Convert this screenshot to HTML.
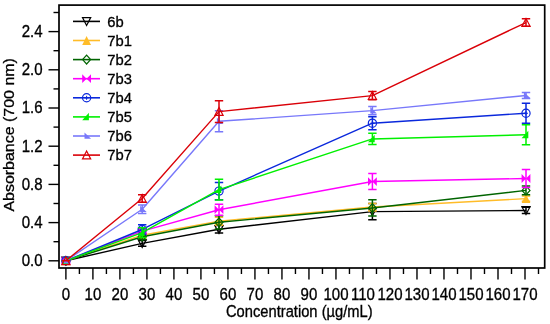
<!DOCTYPE html><html><head><meta charset="utf-8"><style>html,body{margin:0;padding:0;background:#fff;}svg{display:block;will-change:transform;}text{font-family:"Liberation Sans",sans-serif;stroke:#000;stroke-width:0.3px;}</style></head><body>
<svg width="550" height="324" viewBox="0 0 550 324">
<rect width="550" height="324" fill="#fff"/>
<rect x="59.0" y="5.1" width="485.70" height="262.90" fill="none" stroke="#000" stroke-width="1.7"/>
<line x1="48.50" y1="260.80" x2="59.00" y2="260.80" stroke="#000" stroke-width="1.4"/>
<text transform="translate(42.5,266.10) scale(1,1.13)" font-size="15" text-anchor="end">0.0</text>
<line x1="53.50" y1="241.70" x2="59.00" y2="241.70" stroke="#000" stroke-width="1.4"/>
<line x1="48.50" y1="222.60" x2="59.00" y2="222.60" stroke="#000" stroke-width="1.4"/>
<text transform="translate(42.5,227.90) scale(1,1.13)" font-size="15" text-anchor="end">0.4</text>
<line x1="53.50" y1="203.50" x2="59.00" y2="203.50" stroke="#000" stroke-width="1.4"/>
<line x1="48.50" y1="184.40" x2="59.00" y2="184.40" stroke="#000" stroke-width="1.4"/>
<text transform="translate(42.5,189.70) scale(1,1.13)" font-size="15" text-anchor="end">0.8</text>
<line x1="53.50" y1="165.30" x2="59.00" y2="165.30" stroke="#000" stroke-width="1.4"/>
<line x1="48.50" y1="146.20" x2="59.00" y2="146.20" stroke="#000" stroke-width="1.4"/>
<text transform="translate(42.5,151.50) scale(1,1.13)" font-size="15" text-anchor="end">1.2</text>
<line x1="53.50" y1="127.10" x2="59.00" y2="127.10" stroke="#000" stroke-width="1.4"/>
<line x1="48.50" y1="108.00" x2="59.00" y2="108.00" stroke="#000" stroke-width="1.4"/>
<text transform="translate(42.5,113.30) scale(1,1.13)" font-size="15" text-anchor="end">1.6</text>
<line x1="53.50" y1="88.90" x2="59.00" y2="88.90" stroke="#000" stroke-width="1.4"/>
<line x1="48.50" y1="69.80" x2="59.00" y2="69.80" stroke="#000" stroke-width="1.4"/>
<text transform="translate(42.5,75.10) scale(1,1.13)" font-size="15" text-anchor="end">2.0</text>
<line x1="53.50" y1="50.70" x2="59.00" y2="50.70" stroke="#000" stroke-width="1.4"/>
<line x1="48.50" y1="31.60" x2="59.00" y2="31.60" stroke="#000" stroke-width="1.4"/>
<text transform="translate(42.5,36.90) scale(1,1.13)" font-size="15" text-anchor="end">2.4</text>
<line x1="53.50" y1="12.50" x2="59.00" y2="12.50" stroke="#000" stroke-width="1.4"/>
<line x1="65.90" y1="268.00" x2="65.90" y2="279.50" stroke="#000" stroke-width="1.4"/>
<text transform="translate(65.90,299.6) scale(1,1.13)" font-size="15" text-anchor="middle">0</text>
<line x1="79.40" y1="268.00" x2="79.40" y2="274.00" stroke="#000" stroke-width="1.4"/>
<line x1="92.91" y1="268.00" x2="92.91" y2="279.50" stroke="#000" stroke-width="1.4"/>
<text transform="translate(92.91,299.6) scale(1,1.13)" font-size="15" text-anchor="middle">10</text>
<line x1="106.41" y1="268.00" x2="106.41" y2="274.00" stroke="#000" stroke-width="1.4"/>
<line x1="119.91" y1="268.00" x2="119.91" y2="279.50" stroke="#000" stroke-width="1.4"/>
<text transform="translate(119.91,299.6) scale(1,1.13)" font-size="15" text-anchor="middle">20</text>
<line x1="133.42" y1="268.00" x2="133.42" y2="274.00" stroke="#000" stroke-width="1.4"/>
<line x1="146.92" y1="268.00" x2="146.92" y2="279.50" stroke="#000" stroke-width="1.4"/>
<text transform="translate(146.92,299.6) scale(1,1.13)" font-size="15" text-anchor="middle">30</text>
<line x1="160.42" y1="268.00" x2="160.42" y2="274.00" stroke="#000" stroke-width="1.4"/>
<line x1="173.92" y1="268.00" x2="173.92" y2="279.50" stroke="#000" stroke-width="1.4"/>
<text transform="translate(173.92,299.6) scale(1,1.13)" font-size="15" text-anchor="middle">40</text>
<line x1="187.43" y1="268.00" x2="187.43" y2="274.00" stroke="#000" stroke-width="1.4"/>
<line x1="200.93" y1="268.00" x2="200.93" y2="279.50" stroke="#000" stroke-width="1.4"/>
<text transform="translate(200.93,299.6) scale(1,1.13)" font-size="15" text-anchor="middle">50</text>
<line x1="214.43" y1="268.00" x2="214.43" y2="274.00" stroke="#000" stroke-width="1.4"/>
<line x1="227.94" y1="268.00" x2="227.94" y2="279.50" stroke="#000" stroke-width="1.4"/>
<text transform="translate(227.94,299.6) scale(1,1.13)" font-size="15" text-anchor="middle">60</text>
<line x1="241.44" y1="268.00" x2="241.44" y2="274.00" stroke="#000" stroke-width="1.4"/>
<line x1="254.94" y1="268.00" x2="254.94" y2="279.50" stroke="#000" stroke-width="1.4"/>
<text transform="translate(254.94,299.6) scale(1,1.13)" font-size="15" text-anchor="middle">70</text>
<line x1="268.45" y1="268.00" x2="268.45" y2="274.00" stroke="#000" stroke-width="1.4"/>
<line x1="281.95" y1="268.00" x2="281.95" y2="279.50" stroke="#000" stroke-width="1.4"/>
<text transform="translate(281.95,299.6) scale(1,1.13)" font-size="15" text-anchor="middle">80</text>
<line x1="295.45" y1="268.00" x2="295.45" y2="274.00" stroke="#000" stroke-width="1.4"/>
<line x1="308.95" y1="268.00" x2="308.95" y2="279.50" stroke="#000" stroke-width="1.4"/>
<text transform="translate(308.95,299.6) scale(1,1.13)" font-size="15" text-anchor="middle">90</text>
<line x1="322.46" y1="268.00" x2="322.46" y2="274.00" stroke="#000" stroke-width="1.4"/>
<line x1="335.96" y1="268.00" x2="335.96" y2="279.50" stroke="#000" stroke-width="1.4"/>
<text transform="translate(335.96,299.6) scale(1,1.13)" font-size="15" text-anchor="middle">100</text>
<line x1="349.46" y1="268.00" x2="349.46" y2="274.00" stroke="#000" stroke-width="1.4"/>
<line x1="362.97" y1="268.00" x2="362.97" y2="279.50" stroke="#000" stroke-width="1.4"/>
<text transform="translate(362.97,299.6) scale(1,1.13)" font-size="15" text-anchor="middle">110</text>
<line x1="376.47" y1="268.00" x2="376.47" y2="274.00" stroke="#000" stroke-width="1.4"/>
<line x1="389.97" y1="268.00" x2="389.97" y2="279.50" stroke="#000" stroke-width="1.4"/>
<text transform="translate(389.97,299.6) scale(1,1.13)" font-size="15" text-anchor="middle">120</text>
<line x1="403.48" y1="268.00" x2="403.48" y2="274.00" stroke="#000" stroke-width="1.4"/>
<line x1="416.98" y1="268.00" x2="416.98" y2="279.50" stroke="#000" stroke-width="1.4"/>
<text transform="translate(416.98,299.6) scale(1,1.13)" font-size="15" text-anchor="middle">130</text>
<line x1="430.48" y1="268.00" x2="430.48" y2="274.00" stroke="#000" stroke-width="1.4"/>
<line x1="443.98" y1="268.00" x2="443.98" y2="279.50" stroke="#000" stroke-width="1.4"/>
<text transform="translate(443.98,299.6) scale(1,1.13)" font-size="15" text-anchor="middle">140</text>
<line x1="457.49" y1="268.00" x2="457.49" y2="274.00" stroke="#000" stroke-width="1.4"/>
<line x1="470.99" y1="268.00" x2="470.99" y2="279.50" stroke="#000" stroke-width="1.4"/>
<text transform="translate(470.99,299.6) scale(1,1.13)" font-size="15" text-anchor="middle">150</text>
<line x1="484.49" y1="268.00" x2="484.49" y2="274.00" stroke="#000" stroke-width="1.4"/>
<line x1="498.00" y1="268.00" x2="498.00" y2="279.50" stroke="#000" stroke-width="1.4"/>
<text transform="translate(498.00,299.6) scale(1,1.13)" font-size="15" text-anchor="middle">160</text>
<line x1="511.50" y1="268.00" x2="511.50" y2="274.00" stroke="#000" stroke-width="1.4"/>
<line x1="525.00" y1="268.00" x2="525.00" y2="279.50" stroke="#000" stroke-width="1.4"/>
<text transform="translate(525.00,299.6) scale(1,1.13)" font-size="15" text-anchor="middle">170</text>
<line x1="538.50" y1="268.00" x2="538.50" y2="274.00" stroke="#000" stroke-width="1.4"/>
<text transform="translate(226,316.5) scale(1,1.15)" font-size="15" textLength="146.6" lengthAdjust="spacingAndGlyphs">Concentration (µg/mL)</text>
<text transform="translate(13.9,211.6) rotate(-90)" font-size="15" textLength="153.5" lengthAdjust="spacingAndGlyphs">Absorbance (700 nm)</text>
<path d="M65.90,260.80 L142.20,243.32 L219.00,229.29 L372.40,211.62 L526.00,210.47" fill="none" stroke="#000000" stroke-width="1.4" stroke-linejoin="round"/>
<path d="M65.90,260.80 V260.80 M61.70,260.80 H70.10 M61.70,260.80 H70.10" stroke="#000000" stroke-width="1.5" fill="none"/>
<path d="M61.80,257.00 L70.00,257.00 L65.90,264.90 Z" fill="none" stroke="#000000" stroke-width="1.2"/>
<path d="M142.20,240.46 V246.19 M138.00,240.46 H146.40 M138.00,246.19 H146.40" stroke="#000000" stroke-width="1.5" fill="none"/>
<path d="M138.10,239.52 L146.30,239.52 L142.20,247.42 Z" fill="none" stroke="#000000" stroke-width="1.2"/>
<path d="M219.00,225.47 V233.11 M214.80,225.47 H223.20 M214.80,233.11 H223.20" stroke="#000000" stroke-width="1.5" fill="none"/>
<path d="M214.90,225.49 L223.10,225.49 L219.00,233.39 Z" fill="none" stroke="#000000" stroke-width="1.2"/>
<path d="M372.40,203.50 V219.74 M368.20,203.50 H376.60 M368.20,219.74 H376.60" stroke="#000000" stroke-width="1.5" fill="none"/>
<path d="M368.30,207.82 L376.50,207.82 L372.40,215.72 Z" fill="none" stroke="#000000" stroke-width="1.2"/>
<path d="M526.00,207.32 V213.62 M521.80,207.32 H530.20 M521.80,213.62 H530.20" stroke="#000000" stroke-width="1.5" fill="none"/>
<path d="M521.90,206.67 L530.10,206.67 L526.00,214.57 Z" fill="none" stroke="#000000" stroke-width="1.2"/>
<path d="M65.90,260.80 L142.20,235.21 L219.00,221.17 L372.40,207.03 L526.00,198.63" fill="none" stroke="#FFBC28" stroke-width="1.4" stroke-linejoin="round"/>
<path d="M65.90,260.80 V260.80 M61.70,260.80 H70.10 M61.70,260.80 H70.10" stroke="#FFBC28" stroke-width="1.5" fill="none"/>
<path d="M61.50,265.20 L70.30,265.20 L65.90,256.40 Z" fill="#FFBC28"/>
<path d="M142.20,232.34 V238.07 M138.00,232.34 H146.40 M138.00,238.07 H146.40" stroke="#FFBC28" stroke-width="1.5" fill="none"/>
<path d="M137.80,239.61 L146.60,239.61 L142.20,230.81 Z" fill="#FFBC28"/>
<path d="M219.00,217.35 V224.99 M214.80,217.35 H223.20 M214.80,224.99 H223.20" stroke="#FFBC28" stroke-width="1.5" fill="none"/>
<path d="M214.60,225.57 L223.40,225.57 L219.00,216.77 Z" fill="#FFBC28"/>
<path d="M372.40,203.40 V210.66 M368.20,203.40 H376.60 M368.20,210.66 H376.60" stroke="#FFBC28" stroke-width="1.5" fill="none"/>
<path d="M368.00,211.43 L376.80,211.43 L372.40,202.63 Z" fill="#FFBC28"/>
<path d="M526.00,195.96 V201.30 M521.80,195.96 H530.20 M521.80,201.30 H530.20" stroke="#FFBC28" stroke-width="1.5" fill="none"/>
<path d="M521.60,203.03 L530.40,203.03 L526.00,194.23 Z" fill="#FFBC28"/>
<path d="M65.90,260.80 L142.20,236.73 L219.00,222.31 L372.40,207.99 L526.00,190.42" fill="none" stroke="#006400" stroke-width="1.4" stroke-linejoin="round"/>
<path d="M65.90,260.80 V260.80 M61.70,260.80 H70.10 M61.70,260.80 H70.10" stroke="#006400" stroke-width="1.5" fill="none"/>
<path d="M65.90,256.40 L69.90,260.80 L65.90,265.20 L61.90,260.80 Z" fill="none" stroke="#006400" stroke-width="1.2"/>
<path d="M142.20,233.87 V239.60 M138.00,233.87 H146.40 M138.00,239.60 H146.40" stroke="#006400" stroke-width="1.5" fill="none"/>
<path d="M142.20,232.33 L146.20,236.73 L142.20,241.13 L138.20,236.73 Z" fill="none" stroke="#006400" stroke-width="1.2"/>
<path d="M219.00,215.63 V229.00 M214.80,215.63 H223.20 M214.80,229.00 H223.20" stroke="#006400" stroke-width="1.5" fill="none"/>
<path d="M219.00,217.91 L223.00,222.31 L219.00,226.71 L215.00,222.31 Z" fill="none" stroke="#006400" stroke-width="1.2"/>
<path d="M372.40,199.87 V216.11 M368.20,199.87 H376.60 M368.20,216.11 H376.60" stroke="#006400" stroke-width="1.5" fill="none"/>
<path d="M372.40,203.59 L376.40,207.99 L372.40,212.39 L368.40,207.99 Z" fill="none" stroke="#006400" stroke-width="1.2"/>
<path d="M526.00,186.12 V194.71 M521.80,186.12 H530.20 M521.80,194.71 H530.20" stroke="#006400" stroke-width="1.5" fill="none"/>
<path d="M526.00,186.02 L530.00,190.42 L526.00,194.82 L522.00,190.42 Z" fill="none" stroke="#006400" stroke-width="1.2"/>
<path d="M65.90,260.80 L142.20,231.10 L219.00,209.71 L372.40,181.54 L526.00,178.48" fill="none" stroke="#FF00FF" stroke-width="1.4" stroke-linejoin="round"/>
<path d="M65.90,260.80 V260.80 M61.70,260.80 H70.10 M61.70,260.80 H70.10" stroke="#FF00FF" stroke-width="1.5" fill="none"/>
<path d="M61.50,256.40 L65.90,260.80 L61.50,265.20 Z M70.30,256.40 L65.90,260.80 L70.30,265.20 Z" fill="#FF00FF"/>
<path d="M142.20,228.23 V233.96 M138.00,228.23 H146.40 M138.00,233.96 H146.40" stroke="#FF00FF" stroke-width="1.5" fill="none"/>
<path d="M137.80,226.70 L142.20,231.10 L137.80,235.50 Z M146.60,226.70 L142.20,231.10 L146.60,235.50 Z" fill="#FF00FF"/>
<path d="M219.00,204.26 V215.15 M214.80,204.26 H223.20 M214.80,215.15 H223.20" stroke="#FF00FF" stroke-width="1.5" fill="none"/>
<path d="M214.60,205.31 L219.00,209.71 L214.60,214.11 Z M223.40,205.31 L219.00,209.71 L223.40,214.11 Z" fill="#FF00FF"/>
<path d="M372.40,173.61 V189.46 M368.20,173.61 H376.60 M368.20,189.46 H376.60" stroke="#FF00FF" stroke-width="1.5" fill="none"/>
<path d="M368.00,177.14 L372.40,181.54 L368.00,185.94 Z M376.80,177.14 L372.40,181.54 L376.80,185.94 Z" fill="#FF00FF"/>
<path d="M526.00,169.50 V187.46 M521.80,169.50 H530.20 M521.80,187.46 H530.20" stroke="#FF00FF" stroke-width="1.5" fill="none"/>
<path d="M521.60,174.08 L526.00,178.48 L521.60,182.88 Z M530.40,174.08 L526.00,178.48 L530.40,182.88 Z" fill="#FF00FF"/>
<path d="M65.90,260.80 L142.20,229.48 L219.00,191.09 L372.40,123.18 L526.00,113.25" fill="none" stroke="#0A28DC" stroke-width="1.4" stroke-linejoin="round"/>
<path d="M65.90,260.80 V260.80 M61.70,260.80 H70.10 M61.70,260.80 H70.10" stroke="#0A28DC" stroke-width="1.5" fill="none"/>
<circle cx="65.90" cy="260.80" r="4.10" fill="none" stroke="#0A28DC" stroke-width="1.2"/><path d="M65.90,258.80 V262.80 M63.90,260.80 H67.90" stroke="#0A28DC" stroke-width="1"/>
<path d="M142.20,224.70 V234.25 M138.00,224.70 H146.40 M138.00,234.25 H146.40" stroke="#0A28DC" stroke-width="1.5" fill="none"/>
<circle cx="142.20" cy="229.48" r="4.10" fill="none" stroke="#0A28DC" stroke-width="1.2"/><path d="M142.20,227.48 V231.48 M140.20,229.48 H144.20" stroke="#0A28DC" stroke-width="1"/>
<path d="M219.00,182.49 V199.68 M214.80,182.49 H223.20 M214.80,199.68 H223.20" stroke="#0A28DC" stroke-width="1.5" fill="none"/>
<circle cx="219.00" cy="191.09" r="4.10" fill="none" stroke="#0A28DC" stroke-width="1.2"/><path d="M219.00,189.09 V193.09 M217.00,191.09 H221.00" stroke="#0A28DC" stroke-width="1"/>
<path d="M372.40,116.69 V129.68 M368.20,116.69 H376.60 M368.20,129.68 H376.60" stroke="#0A28DC" stroke-width="1.5" fill="none"/>
<circle cx="372.40" cy="123.18" r="4.10" fill="none" stroke="#0A28DC" stroke-width="1.2"/><path d="M372.40,121.18 V125.18 M370.40,123.18 H374.40" stroke="#0A28DC" stroke-width="1"/>
<path d="M526.00,103.32 V123.18 M521.80,103.32 H530.20 M521.80,123.18 H530.20" stroke="#0A28DC" stroke-width="1.5" fill="none"/>
<circle cx="526.00" cy="113.25" r="4.10" fill="none" stroke="#0A28DC" stroke-width="1.2"/><path d="M526.00,111.25 V115.25 M524.00,113.25 H528.00" stroke="#0A28DC" stroke-width="1"/>
<path d="M65.90,260.80 L142.20,232.63 L219.00,189.65 L372.40,138.94 L526.00,134.74" fill="none" stroke="#00F000" stroke-width="1.4" stroke-linejoin="round"/>
<path d="M65.90,260.80 V260.80 M61.70,260.80 H70.10 M61.70,260.80 H70.10" stroke="#00F000" stroke-width="1.5" fill="none"/>
<path d="M61.50,264.20 L68.20,264.20 L68.20,256.70 Z" fill="#00F000"/>
<path d="M142.20,227.85 V237.40 M138.00,227.85 H146.40 M138.00,237.40 H146.40" stroke="#00F000" stroke-width="1.5" fill="none"/>
<path d="M137.80,236.03 L144.50,236.03 L144.50,228.53 Z" fill="#00F000"/>
<path d="M219.00,179.34 V199.97 M214.80,179.34 H223.20 M214.80,199.97 H223.20" stroke="#00F000" stroke-width="1.5" fill="none"/>
<path d="M214.60,193.05 L221.30,193.05 L221.30,185.55 Z" fill="#00F000"/>
<path d="M372.40,133.31 V144.58 M368.20,133.31 H376.60 M368.20,144.58 H376.60" stroke="#00F000" stroke-width="1.5" fill="none"/>
<path d="M368.00,142.34 L374.70,142.34 L374.70,134.84 Z" fill="#00F000"/>
<path d="M526.00,124.71 V144.77 M521.80,124.71 H530.20 M521.80,144.77 H530.20" stroke="#00F000" stroke-width="1.5" fill="none"/>
<path d="M521.60,138.14 L528.30,138.14 L528.30,130.64 Z" fill="#00F000"/>
<path d="M65.90,260.80 L142.20,209.23 L219.00,121.27 L372.40,110.67 L526.00,95.49" fill="none" stroke="#7878FA" stroke-width="1.4" stroke-linejoin="round"/>
<path d="M65.90,260.80 V260.80 M61.70,260.80 H70.10 M61.70,260.80 H70.10" stroke="#7878FA" stroke-width="1.5" fill="none"/>
<path d="M63.80,257.20 L63.80,263.60 L70.30,263.60 Z" fill="#7878FA"/>
<path d="M142.20,204.93 V213.53 M138.00,204.93 H146.40 M138.00,213.53 H146.40" stroke="#7878FA" stroke-width="1.5" fill="none"/>
<path d="M140.10,205.63 L140.10,212.03 L146.60,212.03 Z" fill="#7878FA"/>
<path d="M219.00,110.77 V131.78 M214.80,110.77 H223.20 M214.80,131.78 H223.20" stroke="#7878FA" stroke-width="1.5" fill="none"/>
<path d="M216.90,117.67 L216.90,124.07 L223.40,124.07 Z" fill="#7878FA"/>
<path d="M372.40,106.57 V114.78 M368.20,106.57 H376.60 M368.20,114.78 H376.60" stroke="#7878FA" stroke-width="1.5" fill="none"/>
<path d="M370.30,107.07 L370.30,113.47 L376.80,113.47 Z" fill="#7878FA"/>
<path d="M526.00,92.53 V98.45 M521.80,92.53 H530.20 M521.80,98.45 H530.20" stroke="#7878FA" stroke-width="1.5" fill="none"/>
<path d="M523.90,91.89 L523.90,98.29 L530.40,98.29 Z" fill="#7878FA"/>
<path d="M65.90,260.80 L142.20,198.53 L219.00,111.63 L372.40,95.59 L526.00,22.53" fill="none" stroke="#DA0008" stroke-width="1.4" stroke-linejoin="round"/>
<path d="M65.90,260.80 V260.80 M61.70,260.80 H70.10 M61.70,260.80 H70.10" stroke="#DA0008" stroke-width="1.5" fill="none"/>
<path d="M61.80,264.60 L70.00,264.60 L65.90,256.70 Z" fill="none" stroke="#DA0008" stroke-width="1.2"/>
<path d="M142.20,194.81 V202.26 M138.00,194.81 H146.40 M138.00,202.26 H146.40" stroke="#DA0008" stroke-width="1.5" fill="none"/>
<path d="M138.10,202.33 L146.30,202.33 L142.20,194.43 Z" fill="none" stroke="#DA0008" stroke-width="1.2"/>
<path d="M219.00,100.84 V122.42 M214.80,100.84 H223.20 M214.80,122.42 H223.20" stroke="#DA0008" stroke-width="1.5" fill="none"/>
<path d="M214.90,115.43 L223.10,115.43 L219.00,107.53 Z" fill="none" stroke="#DA0008" stroke-width="1.2"/>
<path d="M372.40,91.48 V99.69 M368.20,91.48 H376.60 M368.20,99.69 H376.60" stroke="#DA0008" stroke-width="1.5" fill="none"/>
<path d="M368.30,99.39 L376.50,99.39 L372.40,91.48 Z" fill="none" stroke="#DA0008" stroke-width="1.2"/>
<path d="M526.00,18.80 V26.25 M521.80,18.80 H530.20 M521.80,26.25 H530.20" stroke="#DA0008" stroke-width="1.5" fill="none"/>
<path d="M521.90,26.33 L530.10,26.33 L526.00,18.43 Z" fill="none" stroke="#DA0008" stroke-width="1.2"/>
<line x1="73" y1="21.40" x2="100" y2="21.40" stroke="#000000" stroke-width="1.6"/>
<path d="M82.50,17.60 L90.70,17.60 L86.60,25.50 Z" fill="none" stroke="#000000" stroke-width="1.2"/>
<text transform="translate(107.2,26.50) scale(1,1.05)" font-size="14.8">6b</text>
<line x1="73" y1="40.50" x2="100" y2="40.50" stroke="#FFBC28" stroke-width="1.6"/>
<path d="M82.20,44.90 L91.00,44.90 L86.60,36.10 Z" fill="#FFBC28"/>
<text transform="translate(107.2,45.60) scale(1,1.05)" font-size="14.8">7b1</text>
<line x1="73" y1="59.60" x2="100" y2="59.60" stroke="#006400" stroke-width="1.6"/>
<path d="M86.60,55.20 L90.60,59.60 L86.60,64.00 L82.60,59.60 Z" fill="none" stroke="#006400" stroke-width="1.2"/>
<text transform="translate(107.2,64.70) scale(1,1.05)" font-size="14.8">7b2</text>
<line x1="73" y1="78.70" x2="100" y2="78.70" stroke="#FF00FF" stroke-width="1.6"/>
<path d="M82.20,74.30 L86.60,78.70 L82.20,83.10 Z M91.00,74.30 L86.60,78.70 L91.00,83.10 Z" fill="#FF00FF"/>
<text transform="translate(107.2,83.80) scale(1,1.05)" font-size="14.8">7b3</text>
<line x1="73" y1="97.80" x2="100" y2="97.80" stroke="#0A28DC" stroke-width="1.6"/>
<circle cx="86.60" cy="97.80" r="4.10" fill="none" stroke="#0A28DC" stroke-width="1.2"/><path d="M86.60,95.80 V99.80 M84.60,97.80 H88.60" stroke="#0A28DC" stroke-width="1"/>
<text transform="translate(107.2,102.90) scale(1,1.05)" font-size="14.8">7b4</text>
<line x1="73" y1="116.90" x2="100" y2="116.90" stroke="#00F000" stroke-width="1.6"/>
<path d="M82.20,120.30 L88.90,120.30 L88.90,112.80 Z" fill="#00F000"/>
<text transform="translate(107.2,122.00) scale(1,1.05)" font-size="14.8">7b5</text>
<line x1="73" y1="136.00" x2="100" y2="136.00" stroke="#7878FA" stroke-width="1.6"/>
<path d="M84.50,132.40 L84.50,138.80 L91.00,138.80 Z" fill="#7878FA"/>
<text transform="translate(107.2,141.10) scale(1,1.05)" font-size="14.8">7b6</text>
<line x1="73" y1="155.10" x2="100" y2="155.10" stroke="#DA0008" stroke-width="1.6"/>
<path d="M82.50,158.90 L90.70,158.90 L86.60,151.00 Z" fill="none" stroke="#DA0008" stroke-width="1.2"/>
<text transform="translate(107.2,160.20) scale(1,1.05)" font-size="14.8">7b7</text>
</svg></body></html>
